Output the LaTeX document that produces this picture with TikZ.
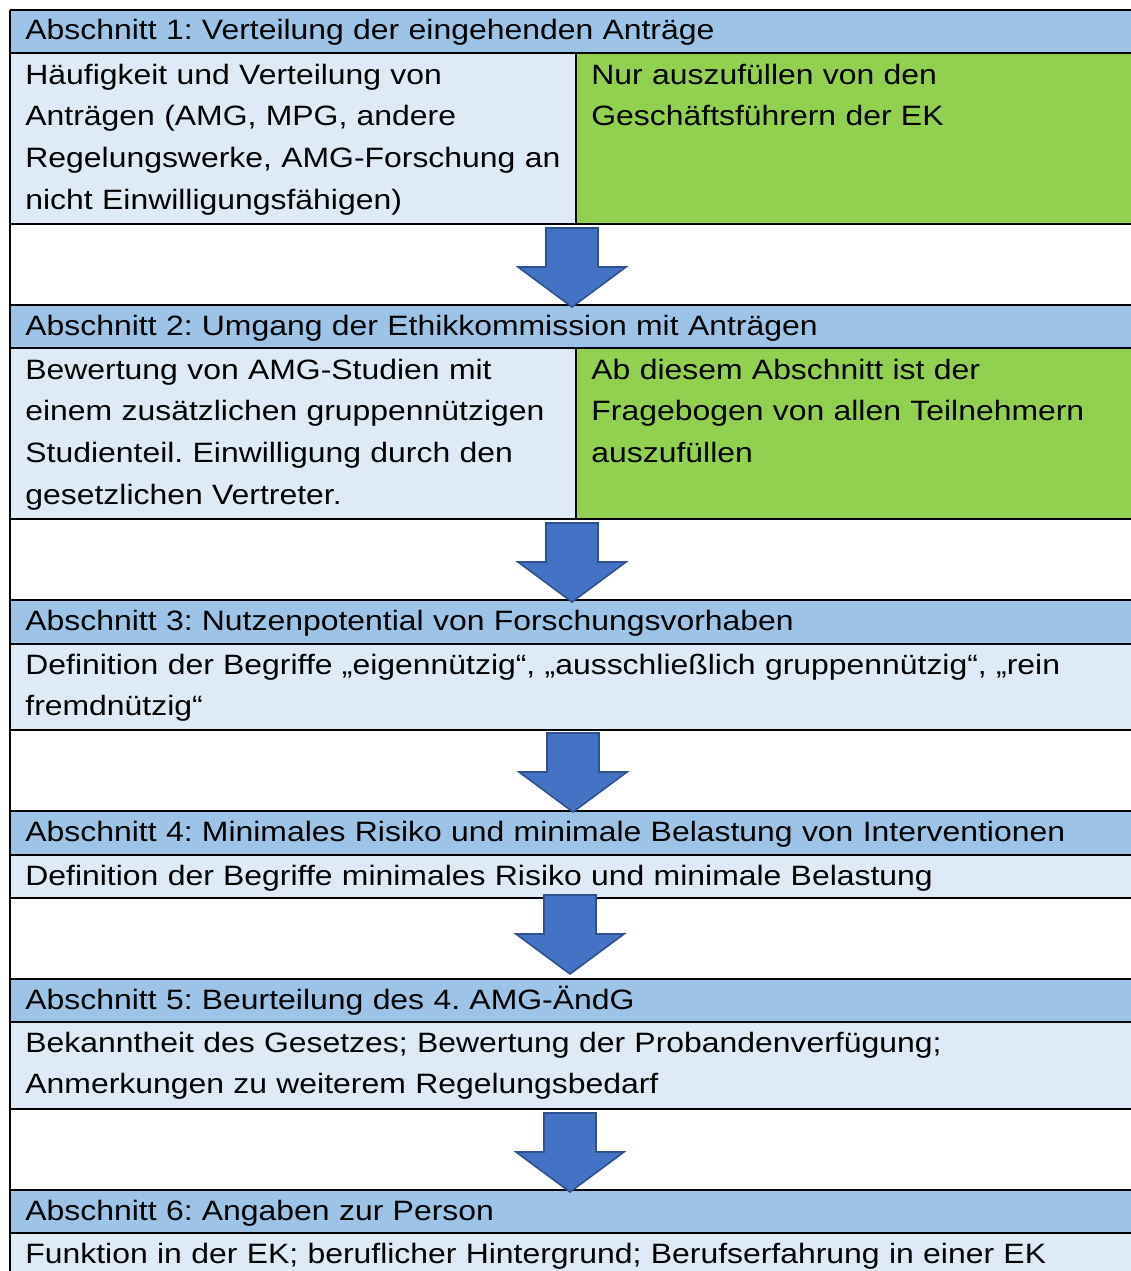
\documentclass[tikz,border=0pt]{standalone}
\usepackage{fontspec}
\setmainfont{Liberation Sans}[FakeStretch=1.14]
\usepackage{xcolor}
\usetikzlibrary{positioning}
\definecolor{hdrblue}{HTML}{9DC3E6}
\definecolor{bodyblue}{HTML}{DEEBF7}
\definecolor{notegreen}{HTML}{92D050}
\definecolor{arrowblue}{HTML}{4472C4}
\definecolor{arrowedge}{HTML}{2F528F}
\frenchspacing

\tikzset{
    txt/.style={anchor=base west, inner sep=0pt, align=left, text width=550pt,
        font=\fontsize{14}{20.85}\selectfont},
    coltxt/.style={txt, text width=272pt},
    rule/.style={line width=1.1pt},
    pics/downarrow/.style={code={
        \draw [fill=arrowblue, draw=arrowedge, line width=0.8pt]
            (-26,0) -- (26,0) -- (26,39) -- (54,39) -- (0,79) -- (-54,39) -- (-26,39) -- cycle;
    }}
}

\begin{document}
\begin{tikzpicture}[x=0.5pt, y=-0.5pt]
    \useasboundingbox (0,0) rectangle (1131,1271);
    \clip (0,0) rectangle (1131,1271);

    % Cell fills
    \fill [hdrblue] (10,10) rectangle (1131,53);
    \fill [bodyblue] (10,53) rectangle (576,224);
    \fill [notegreen] (576,53) rectangle (1131,224);
    \fill [hdrblue] (10,305) rectangle (1131,348);
    \fill [bodyblue] (10,348) rectangle (576,519);
    \fill [notegreen] (576,348) rectangle (1131,519);
    \fill [hdrblue] (10,600) rectangle (1131,644);
    \fill [bodyblue] (10,644) rectangle (1131,730);
    \fill [hdrblue] (10,811) rectangle (1131,855);
    \fill [bodyblue] (10,855) rectangle (1131,898);
    \fill [hdrblue] (10,979) rectangle (1131,1022);
    \fill [bodyblue] (10,1022) rectangle (1131,1109);
    \fill [hdrblue] (10,1190) rectangle (1131,1233);
    \fill [bodyblue] (10,1233) rectangle (1131,1280);

    % Rules
    \foreach \y in {10,53,224,305,348,519,600,644,730,811,855,898,979,1022,1109,1190,1233}
        \draw [rule] (10,\y) -- (1135,\y);
    \draw [rule] (10,9.5) -- (10,1280);
    \draw [rule] (576,53) -- (576,224);
    \draw [rule] (576,348) -- (576,519);

    % Arrows between sections
    \pic at (572,228) {downarrow};
    \pic at (572,523) {downarrow};
    \pic at (573,733) {downarrow};
    \pic at (570,895) {downarrow};
    \pic at (570,1113) {downarrow};

    % Section 1
    \node [txt] (h1) at (25,39.5) {Abschnitt 1: Verteilung der eingehenden Anträge};
    \node [coltxt] (b1) at (25,84) {Häufigkeit und Verteilung von\\Anträgen (AMG, MPG, andere\\Regelungswerke, AMG-Forschung an\\nicht Einwilligungsfähigen)};
    \node [coltxt] (g1) at (591,84) {Nur auszufüllen von den\\Geschäftsführern der EK};

    % Section 2
    \node [txt] (h2) at (25,335) {Abschnitt 2: Umgang der Ethikkommission mit Anträgen};
    \node [coltxt] (b2) at (25,379) {Bewertung von AMG-Studien mit\\einem zusätzlichen gruppennützigen\\Studienteil. Einwilligung durch den\\gesetzlichen Vertreter.};
    \node [coltxt] (g2) at (591,379) {Ab diesem Abschnitt ist der\\Fragebogen von allen Teilnehmern\\auszufüllen};

    % Section 3
    \node [txt] (h3) at (25,630) {Abschnitt 3: Nutzenpotential von Forschungsvorhaben};
    \node [txt] (b3) at (25,674) {Definition der Begriffe „eigennützig“, „ausschließlich gruppennützig“, „rein\\fremdnützig“};

    % Section 4
    \node [txt] (h4) at (25,841) {Abschnitt 4: Minimales Risiko und minimale Belastung von Interventionen};
    \node [txt] (b4) at (25,885) {Definition der Begriffe minimales Risiko und minimale Belastung};

    % Section 5
    \node [txt] (h5) at (25,1009) {Abschnitt 5: Beurteilung des 4. AMG-ÄndG};
    \node [txt] (b5) at (25,1052) {Bekanntheit des Gesetzes; Bewertung der Probandenverfügung;\\Anmerkungen zu weiterem Regelungsbedarf};

    % Section 6
    \node [txt] (h6) at (25,1220) {Abschnitt 6: Angaben zur Person};
    \node [txt] (b6) at (25,1263) {Funktion in der EK; beruflicher Hintergrund; Berufserfahrung in einer EK};
\end{tikzpicture}
\end{document}
